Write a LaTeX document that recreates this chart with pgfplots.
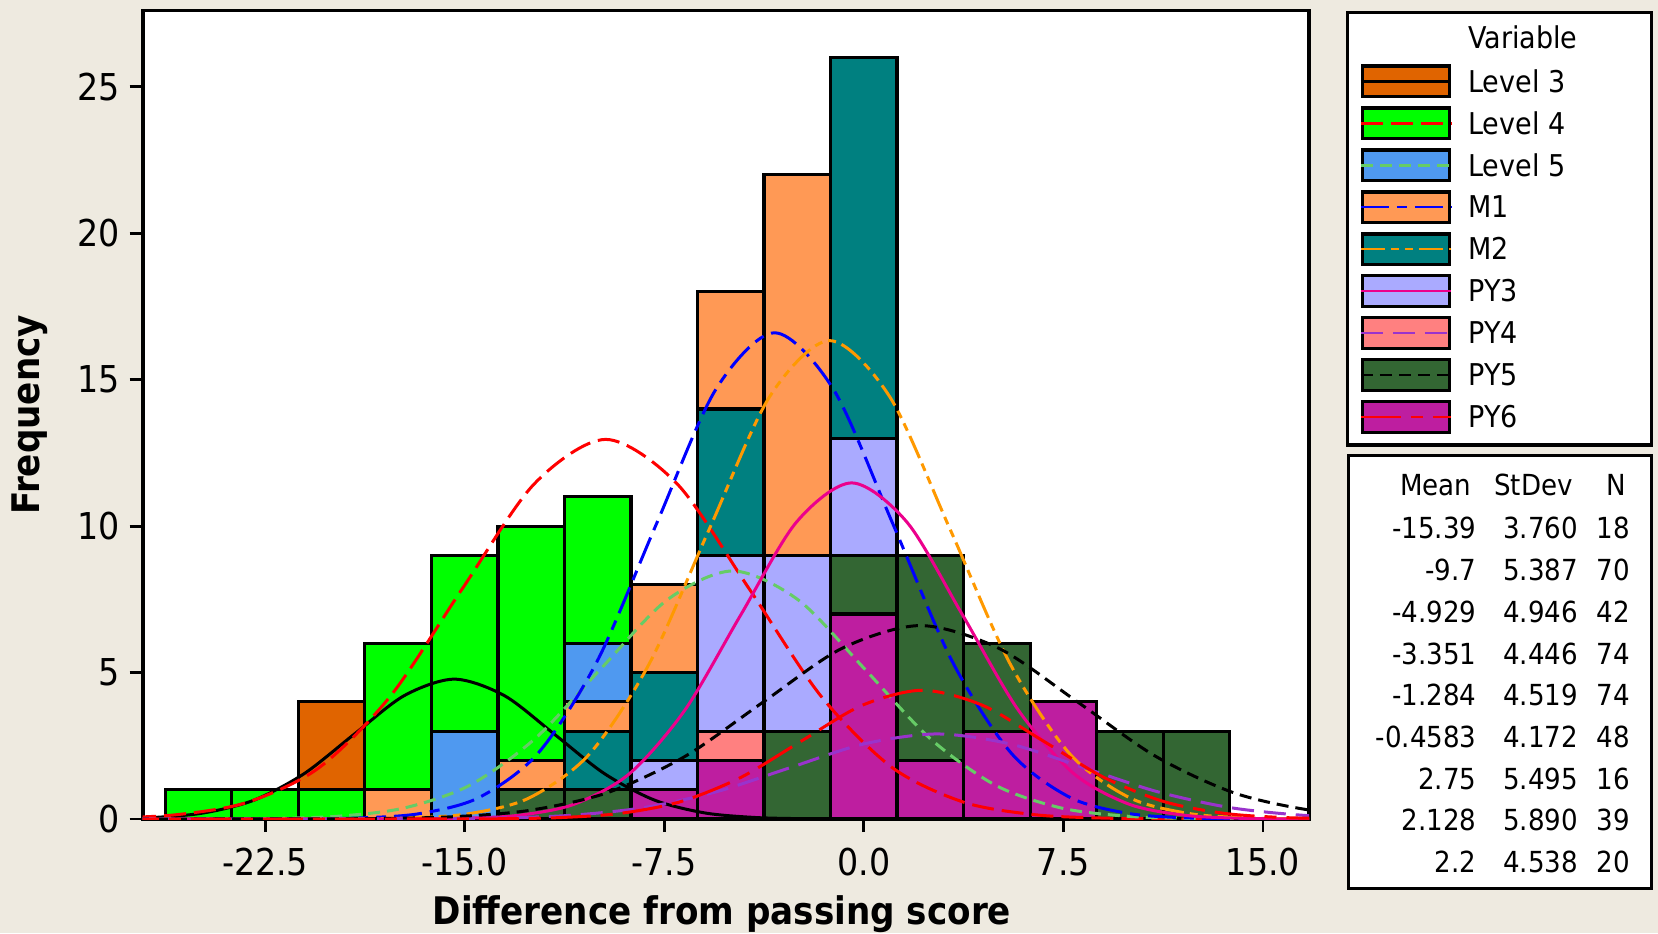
\documentclass[border=0pt]{standalone}
\usepackage{pgfplots}
\pgfplotsset{compat=1.18}
\usepackage{fontspec}
\setmainfont{DejaVu Sans Condensed}

\definecolor{bgbeige}{RGB}{238,234,224}
\definecolor{lvthree}{RGB}{224,100,0}
\definecolor{lvfour}{RGB}{0,255,0}
\definecolor{lvfive}{RGB}{79,153,240}
\definecolor{mone}{RGB}{255,153,85}
\definecolor{mtwo}{RGB}{0,128,128}
\definecolor{pythree}{RGB}{170,170,255}
\definecolor{pyfour}{RGB}{255,128,128}
\definecolor{pyfive}{RGB}{51,102,51}
\definecolor{pysix}{RGB}{190,30,160}
\definecolor{fitgreen}{RGB}{102,204,102}
\definecolor{fitorange}{RGB}{255,153,0}
\definecolor{fitpurple}{RGB}{153,51,204}

\newcommand\tickfont{\fontsize{18.5}{21}\selectfont}
\newcommand\labfont{\fontsize{19}{22}\selectfont\bfseries}
\newcommand\legfont{\fontsize{15}{18}\selectfont}
\newcommand\statfont{\fontsize{14.5}{17}\selectfont}

% line styles of the fitted normal curves
\tikzset{
  fitL3/.style={black},
  fitL4/.style={red, dash pattern=on 11pt off 4pt},
  fitL5/.style={fitgreen, dash pattern=on 6pt off 3.5pt},
  fitM1/.style={blue, dash pattern=on 14pt off 4pt on 5pt off 4pt},
  fitM2/.style={fitorange, dash pattern=on 12pt off 3pt on 4pt off 3pt on 4pt off 3pt},
  fitPY3/.style={magenta},
  fitPY4/.style={fitpurple, dash pattern=on 11pt off 5pt},
  fitPY5/.style={black, dash pattern=on 6pt off 3.5pt},
  fitPY6/.style={red, dash pattern=on 20pt off 5pt on 6pt off 5pt},
}
\pgfplotsset{
  hbar/.style={ybar, bar width=2.5, bar shift=0pt, draw=black, line width=1.6pt},
  fit/.style={smooth, line width=1.5pt},
}

% one legend row: index, fill colour, curve style, label
\newcommand\legrow[4]{%
  \pgfmathsetmacro\yc{425.85-20.98*#1}%
  \filldraw[fill=#2, draw=black, line width=1.7pt] (681.2pt,\yc pt-7.65pt) rectangle (724.65pt,\yc pt+7.65pt);
  \draw[#3, line width=1.3pt] (680.4pt,\yc pt) -- (725.5pt,\yc pt);
  \node[anchor=base west, inner sep=0pt, font=\legfont] at (734pt,\yc pt-5.4pt) {#4};
}
% one row of the summary table
\newcommand\statrow[4]{%
  \pgfmathsetmacro\yc{202.35-20.85*#1}%
  \node[anchor=base east, inner sep=0pt, font=\statfont] at (738.4pt,\yc pt-5.3pt) {#2};
  \node[anchor=base east, inner sep=0pt, font=\statfont] at (789.2pt,\yc pt-5.3pt) {#3};
  \node[anchor=base east, inner sep=0pt, font=\statfont] at (815pt,\yc pt-5.3pt) {#4};
}

\begin{document}
\begin{tikzpicture}
\fill[bgbeige] (0pt,0pt) rectangle (829pt,466.5pt);

\begin{axis}[
  at={(71.35pt,57pt)}, anchor=south west,
  scale only axis, width=583.15pt, height=404.2pt,
  xmin=-27.1, xmax=16.73, ymin=0, ymax=27.6,
  axis background/.style={fill=white},
  axis line style={line width=1.8pt},
  tick pos=left, tick align=outside, major tick length=6.5pt,
  tick style={line width=1.4pt, black},
  xtick={-22.5,-15,-7.5,0,7.5,15},
  xticklabels={-22.5,-15.0,-7.5,0.0,7.5,15.0},
  ytick={0,5,10,15,20,25},
  yticklabels={0,5,10,15,20,25},
  xticklabel style={font=\tickfont, inner sep=0pt, anchor=base, yshift=-21.5pt},
  yticklabel style={font=\tickfont, inner sep=0pt, anchor=east, xshift=-4.85pt},
  xlabel={Difference from passing score},
  ylabel={Frequency},
  xlabel style={font=\labfont, at={(axis description cs:0.4967,-0.1311)}, anchor=base},
  ylabel style={font=\labfont, at={(axis description cs:-0.097,0.4998)}, anchor=center},
]

% histogram bars (bin width 2.5), taller groups drawn first
\addplot[hbar, fill=lvthree] coordinates {(-20,4)};
\addplot[hbar, fill=lvfour] coordinates {(-25,1) (-22.5,1) (-20,1) (-17.5,6) (-15,9) (-12.5,10) (-10,11)};
\addplot[hbar, fill=lvfive] coordinates {(-15,3) (-10,6)};
\addplot[hbar, fill=mone] coordinates {(-17.5,1) (-12.5,2) (-10,4) (-7.5,8) (-5,18) (-2.5,22)};
\addplot[hbar, fill=mtwo] coordinates {(-10,3) (-7.5,5) (-5,14) (0,26)};
\addplot[hbar, fill=pythree] coordinates {(-7.5,2) (-5,9) (-2.5,9) (0,13)};
\addplot[hbar, fill=pyfour] coordinates {(-5,3)};
\addplot[hbar, fill=pyfive] coordinates {(-12.5,1) (-10,1) (-2.5,3) (0,9) (2.5,9) (5,6) (10,3) (12.5,3)};
\addplot[hbar, fill=pysix] coordinates {(-7.5,1) (-5,2) (0,7) (2.5,2) (5,3) (7.5,4)};

% fitted normal curves, scaled to N x bin width
\addplot[fit, fitL3] coordinates {
 (-28.55,0.0104) (-26.67,0.0530) (-24.79,0.2098) (-22.91,0.6462) (-21.03,1.5501)
 (-19.15,2.8959) (-17.27,4.2136) (-15.39,4.7746) (-13.51,4.2136) (-11.63,2.8959)
 (-9.75,1.5501) (-7.87,0.6462) (-5.99,0.2098) (-4.11,0.0530) (-2.23,0.0104)
 (-0.35,0.0016) (1.53,0.0002) (17,0)};
\addplot[fit, fitL4] coordinates {
 (-28.55,0.0283) (-25.86,0.1440) (-23.17,0.5694) (-20.47,1.754) (-17.78,4.207)
 (-15.09,7.861) (-12.39,11.437) (-9.70,12.960) (-7.01,11.437) (-4.31,7.861)
 (-1.62,4.207) (1.07,1.754) (3.77,0.5694) (6.46,0.1440) (9.15,0.0283)
 (11.85,0.0043) (14.54,0.0005) (17.24,0)};
\addplot[fit, fitL5] coordinates {
 (-27.19,0.0003) (-24.71,0.0028) (-22.24,0.0185) (-19.77,0.0941) (-17.29,0.3721)
 (-14.82,1.146) (-12.35,2.749) (-9.875,5.137) (-7.40,7.474) (-4.929,8.469)
 (-2.456,7.474) (0.017,5.137) (2.49,2.749) (4.963,1.146) (7.436,0.3721)
 (9.909,0.0941) (12.38,0.0185) (14.855,0.0028) (17.33,0.0003)};
\addplot[fit, fitM1] coordinates {
 (-27.80,0) (-25.58,0.0001) (-23.36,0.0007) (-21.14,0.0056) (-18.91,0.0363)
 (-16.69,0.1844) (-14.47,0.7294) (-12.24,2.247) (-10.02,5.389) (-7.797,10.068)
 (-5.574,14.649) (-3.351,16.600) (-1.128,14.649) (1.095,10.068) (3.318,5.389)
 (5.541,2.247) (7.764,0.7294) (9.987,0.1844) (12.21,0.0363) (14.43,0.0056)
 (16.66,0.0007) (18.88,0.0001)};
\addplot[fit, fitM2] coordinates {
 (-28,0) (-26.14,0) (-23.88,0.0001) (-21.62,0.0007) (-19.36,0.0055) (-17.10,0.0357)
 (-14.84,0.1814) (-12.58,0.7176) (-10.32,2.210) (-8.063,5.302) (-5.803,9.906)
 (-3.544,14.413) (-1.284,16.332) (0.976,14.413) (3.235,9.906) (5.495,5.302)
 (7.754,2.210) (10.01,0.7176) (12.27,0.1814) (14.53,0.0357) (16.79,0.0055)};
\addplot[fit, fitPY3] coordinates {
 (-28,0) (-23.40,0) (-21.32,0) (-19.23,0.0005) (-17.15,0.0038) (-15.06,0.0251)
 (-12.97,0.1275) (-10.89,0.5042) (-8.80,1.553) (-6.72,3.725) (-4.63,6.960)
 (-2.54,10.127) (-0.458,11.475) (1.628,10.127) (3.714,6.960) (5.80,3.725)
 (7.886,1.553) (9.972,0.5042) (12.06,0.1275) (14.14,0.0251) (16.23,0.0038)
 (18.31,0.0005)};
\addplot[fit, fitPY4] coordinates {
 (-27.47,0) (-24.725,0) (-21.98,0.0001) (-19.23,0.0010) (-16.48,0.0064)
 (-13.735,0.0323) (-10.99,0.1276) (-8.24,0.3930) (-5.49,0.9428) (-2.745,1.761)
 (0.0025,2.563) (2.75,2.904) (5.4975,2.563) (8.245,1.761) (10.99,0.9428)
 (13.74,0.3930) (16.49,0.1276) (19.24,0.0323)};
\addplot[fit, fitPY5] coordinates {
 (-27.32,0) (-24.38,0.0003) (-21.43,0.0022) (-18.49,0.0144) (-15.54,0.0734)
 (-12.60,0.2902) (-9.652,0.8938) (-6.707,2.144) (-3.762,4.006) (-0.817,5.828)
 (2.128,6.604) (5.073,5.828) (8.018,4.006) (10.96,2.144) (13.91,0.8938)
 (16.85,0.2902) (19.80,0.0734)};
\addplot[fit, fitPY6] coordinates {
 (-28,0) (-22.76,0) (-20.49,0) (-18.22,0.0002) (-15.95,0.0015) (-13.68,0.0096)
 (-11.41,0.0488) (-9.145,0.1931) (-6.876,0.5949) (-4.607,1.427) (-2.338,2.666)
 (-0.069,3.879) (2.2,4.396) (4.469,3.879) (6.738,2.666) (9.007,1.427)
 (11.276,0.5949) (13.545,0.1931) (15.814,0.0488) (18.08,0.0096)};
\end{axis}

% legend of groups
\filldraw[fill=white, draw=black, line width=1.6pt] (673.8pt,244pt) rectangle (825.7pt,460.2pt);
\node[anchor=base west, inner sep=0pt, font=\legfont] at (734pt,442.1pt) {Variable};
\legrow{0}{lvthree}{fitL3}{Level 3}
\legrow{1}{lvfour}{fitL4}{Level 4}
\legrow{2}{lvfive}{fitL5}{Level 5}
\legrow{3}{mone}{fitM1}{M1}
\legrow{4}{mtwo}{fitM2}{M2}
\legrow{5}{pythree}{fitPY3}{PY3}
\legrow{6}{pyfour}{fitPY4}{PY4}
\legrow{7}{pyfive}{fitPY5}{PY5}
\legrow{8}{pysix}{fitPY6}{PY6}

% summary statistics
\filldraw[fill=white, draw=black, line width=1.6pt] (674.4pt,22.3pt) rectangle (825.7pt,238.7pt);
\node[anchor=base east, inner sep=0pt, font=\statfont] at (735.9pt,218.7pt) {Mean};
\node[anchor=base east, inner sep=0pt, font=\statfont] at (786.5pt,218.7pt) {StDev};
\node[anchor=base east, inner sep=0pt, font=\statfont] at (813.4pt,218.7pt) {N};
\statrow{0}{-15.39}{3.760}{18}
\statrow{1}{-9.7}{5.387}{70}
\statrow{2}{-4.929}{4.946}{42}
\statrow{3}{-3.351}{4.446}{74}
\statrow{4}{-1.284}{4.519}{74}
\statrow{5}{-0.4583}{4.172}{48}
\statrow{6}{2.75}{5.495}{16}
\statrow{7}{2.128}{5.890}{39}
\statrow{8}{2.2}{4.538}{20}

\pgfresetboundingbox
\useasboundingbox (0pt,0pt) rectangle (829pt,466.5pt);
\end{tikzpicture}
\end{document}
